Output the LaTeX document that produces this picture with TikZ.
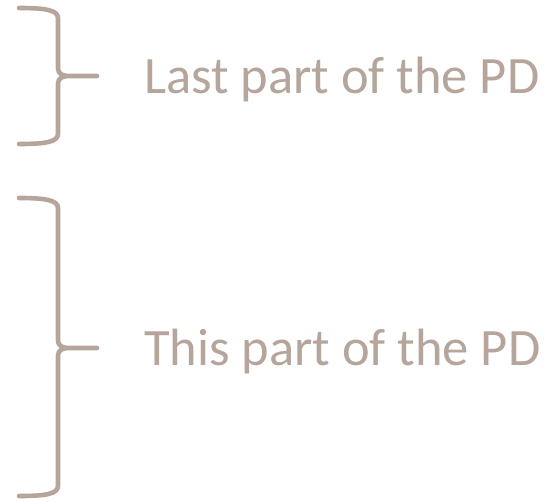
\documentclass[tikz,border=0pt]{standalone}
\usepackage{fontspec}
\setmainfont{Carlito}
\definecolor{taupe}{RGB}{181,165,155}
\begin{document}
\begin{tikzpicture}[x=1pt,y=-1pt,
                    brace line/.style={draw=taupe,line width=4.6pt,line cap=round,line join=round},
                    part label/.style={anchor=base west,inner sep=0pt,text=taupe,font=\fontsize{52.5}{60}\selectfont}
                   ]
  \useasboundingbox (0,0) rectangle (549,501);

  % upper brace
  \coordinate (t1) at (97,76);
  \path[brace line] (19,8) .. controls (45,8) and (58,10) .. (58,18) -- (58,68)
     .. controls (58,74) and (62,76) .. (70,76) -- (t1)
     (70,76) .. controls (62,76) and (58,78) .. (58,84) -- (58,134)
     .. controls (58,142) and (45,144) .. (19,144);
  \node[part label] (last) at (144,93) {Last part of the PD};

  % lower brace
  \coordinate (t2) at (97,348);
  \path[brace line] (19,198) .. controls (45,198) and (58,200) .. (58,208) -- (58,340)
     .. controls (58,346) and (62,348) .. (70,348) -- (t2)
     (70,348) .. controls (62,348) and (58,350) .. (58,356) -- (58,486)
     .. controls (58,494) and (45,496) .. (19,496);
  \node[part label] (this) at (144,365) {This part of the PD};
\end{tikzpicture}
\end{document}
